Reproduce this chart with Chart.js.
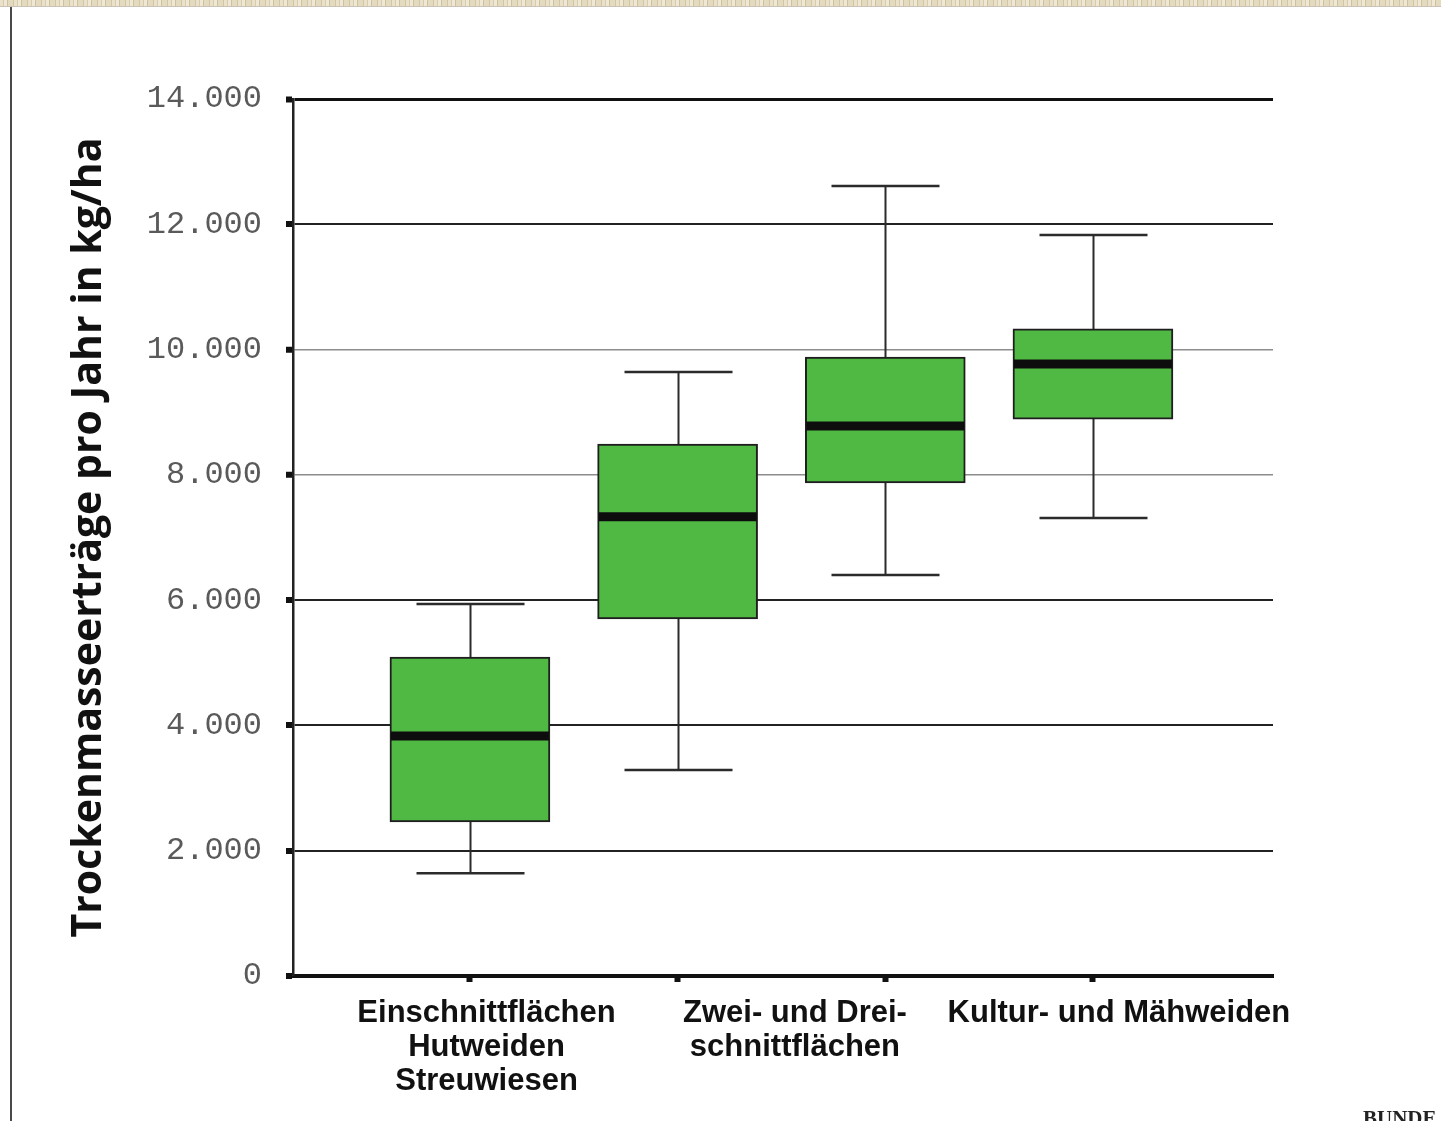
<!DOCTYPE html>
<html>
<head>
<meta charset="utf-8">
<script src="https://cdn.jsdelivr.net/npm/chart.js@4.4.1/dist/chart.umd.min.js"></script>
<style>
  html, body { margin: 0; padding: 0; background: #fff; overflow: hidden; width: 1441px; height: 1121px; }
  #wrap { position: absolute; left: 0; top: 0; width: 1441px; height: 1121px; }
  .strip { position: absolute; left: 0; top: 0; width: 1441px; height: 6px;
    background: repeating-linear-gradient(90deg, #e9e1cb 0 3px, #d8cba8 3px 4px, #efe8d6 4px 7px, #cfc19c 7px 8px, #e4dac0 8px 13px, #d3c6a3 13px 14px);
    border-bottom: 1px solid #c9c3b6; }
  .frame { position: absolute; left: 10px; top: 7px; width: 2px; height: 1114px; background: #4a4a4a; }
  .mark { position: absolute; left: 1363px; top: 1106px; font: bold 21px "Liberation Serif", serif; color: #222; white-space: nowrap; }
</style>
</head>
<body>
<div id="wrap"><canvas id="chart" width="1441" height="1121"></canvas></div>
<div class="strip"></div>
<div class="frame"></div>
<div class="mark">BUNDE</div>
<script>
// Dry-matter yield per year (kg/ha) by grassland type: box plot statistics
const groupPositions = [0, 1, 2, 3];
const whiskerLow  = [1640, 3290, 6400, 7310];
const quartile1   = [2460, 5700, 7870, 8890];
const median      = [3830, 7330, 8780, 9770];
const quartile3   = [5090, 8490, 9880, 10330];
const whiskerHigh = [5940, 9640, 12610, 11830];

// Category captions under the x axis and where they sit on the group scale
const categoryLabels = [
  ["Einschnittflächen", "Hutweiden", "Streuwiesen"],
  ["Zwei- und Drei-", "schnittflächen"],
  ["Kultur- und Mähweiden"]
];
const categoryLabelAnchors = [0.08, 1.565, 3.125];

const yTickValues = [0, 2000, 4000, 6000, 8000, 10000, 12000, 14000];
const yTitle = "Trockenmasseerträge pro Jahr in kg/ha";

// Whiskers behind the boxes, median bars on top of them
const boxPlotPlugin = {
  id: 'boxPlot',
  beforeDatasetsDraw(chart, args, opts) {
    const { ctx, scales: { x, y } } = chart;
    ctx.save();
    ctx.strokeStyle = opts.whiskerColor;
    ctx.lineCap = 'butt';
    groupPositions.forEach((g, i) => {
      const px = Math.round(x.getPixelForValue(g)) + 0.5;
      const half = opts.capWidth / 2;
      ctx.lineWidth = opts.whiskerWidth;
      ctx.beginPath();
      ctx.moveTo(px, y.getPixelForValue(whiskerHigh[i]));
      ctx.lineTo(px, y.getPixelForValue(quartile3[i]));
      ctx.moveTo(px, y.getPixelForValue(quartile1[i]));
      ctx.lineTo(px, y.getPixelForValue(whiskerLow[i]));
      ctx.stroke();
      ctx.lineWidth = opts.capLineWidth;
      ctx.beginPath();
      [whiskerHigh[i], whiskerLow[i]].forEach(v => {
        const py = y.getPixelForValue(v);
        ctx.moveTo(px - half, py);
        ctx.lineTo(px + half, py);
      });
      ctx.stroke();
    });
    ctx.restore();
  },
  afterDatasetsDraw(chart, args, opts) {
    const { ctx, scales: { y } } = chart;
    const meta = chart.getDatasetMeta(0);
    ctx.save();
    ctx.strokeStyle = opts.medianColor;
    ctx.lineWidth = opts.medianWidth;
    meta.data.forEach((bar, i) => {
      const py = y.getPixelForValue(median[i]);
      ctx.beginPath();
      ctx.moveTo(bar.x - bar.width / 2 + 1, py);
      ctx.lineTo(bar.x + bar.width / 2 - 1, py);
      ctx.stroke();
    });
    ctx.restore();
  }
};

const gridStyle = v => {
  if (v === 14000) return { w: 3, c: '#111' };
  if (v === 10000 || v === 8000) return { w: 1.5, c: '#8c8c8c' };
  return { w: 2, c: '#222' };
};

new Chart(document.getElementById('chart'), {
  type: 'bar',
  data: {
    datasets: [{
      data: groupPositions.map((g, i) => ({ x: g, y: [quartile1[i], quartile3[i]] })),
      backgroundColor: '#50b944',
      borderColor: '#1e1e1e',
      borderWidth: 2,
      borderSkipped: false,
      barThickness: 160
    }]
  },
  options: {
    responsive: false,
    animation: false,
    devicePixelRatio: 1,
    layout: { padding: { top: 99, right: 168, bottom: 0, left: 0 } },
    plugins: {
      legend: { display: false },
      tooltip: { enabled: false },
      boxPlot: {
        whiskerColor: '#2b2b2b', whiskerWidth: 2, capLineWidth: 2.5, capWidth: 108,
        medianColor: '#0d0d0d', medianWidth: 9
      }
    },
    scales: {
      x: {
        type: 'linear',
        offset: false,
        min: -0.852,
        max: 3.867,
        weight: 0,
        afterBuildTicks: s => { s.ticks = groupPositions.map(v => ({ value: v })); },
        afterFit: s => { s.height = 8; },
        ticks: { display: false },
        grid: { offset: false, drawOnChartArea: false, tickLength: 6, tickWidth: 6, tickColor: '#111', color: '#111' },
        border: { display: true, width: 4, color: '#111' }
      },
      xLabels: {
        type: 'linear',
        position: 'bottom',
        offset: false,
        min: -0.852,
        max: 3.867,
        weight: 1,
        afterBuildTicks: s => { s.ticks = categoryLabelAnchors.map(v => ({ value: v })); },
        afterFit: s => { s.height = 137; },
        grid: { display: false, offset: false },
        border: { display: false },
        ticks: {
          autoSkip: false,
          maxRotation: 0,
          minRotation: 0,
          padding: 4,
          color: '#111',
          font: { family: '"Liberation Sans", Arial, sans-serif', size: 31, weight: 'bold', lineHeight: 34 / 31 },
          callback: (v, i) => categoryLabels[i]
        }
      },
      y: {
        type: 'linear',
        min: 0,
        max: 14000,
        afterBuildTicks: s => { s.ticks = yTickValues.map(v => ({ value: v })); },
        afterFit: s => { s.width = 293; },
        ticks: {
          padding: 24,
          color: '#5a5a5a',
          font: { family: '"Liberation Mono", "DejaVu Sans Mono", monospace', size: 32 },
          callback: v => v === 0 ? '0' : v.toLocaleString('de-DE')
        },
        grid: {
          drawOnChartArea: true,
          tickLength: 7,
          tickWidth: 6,
          tickColor: '#111',
          lineWidth: c => c.tick && c.tick.value === 0 ? 0 : gridStyle(c.tick ? c.tick.value : 0).w,
          color: c => gridStyle(c.tick ? c.tick.value : 0).c
        },
        border: { display: true, width: 2.5, color: '#222' },
        title: {
          display: true,
          text: yTitle,
          color: '#111',
          font: { family: '"Open Sans", sans-serif', size: 41, weight: 'bold', lineHeight: 1.2 },
          padding: { top: 65, bottom: 0 }
        }
      }
    }
  },
  plugins: [boxPlotPlugin]
});
</script>
</body>
</html>
